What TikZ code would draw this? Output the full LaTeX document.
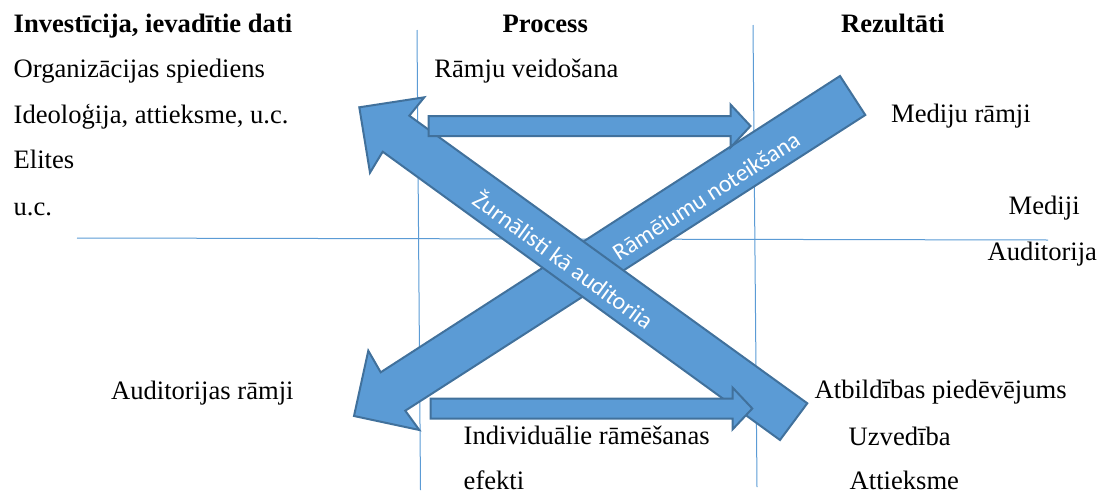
\documentclass[tikz,border=0pt]{standalone}
\usepackage{fontspec}
\setmainfont{Liberation Serif}
\newfontfamily\arrowfont{Carlito}
\definecolor{guideblue}{HTML}{5B9BD5}
\definecolor{arrowblue}{HTML}{5B9BD5}
\definecolor{arrowedge}{HTML}{41719C}
\tikzset{
        guide/.style={draw=guideblue, line width=0.5pt},
        blockarrow/.style={fill=arrowblue, draw=arrowedge, line width=1pt, line join=miter},
        lbl/.style={anchor=base west, inner sep=0pt, font=\fontsize{13.3}{16}\selectfont},
        colhead/.style={lbl, font=\fontsize{13.3}{16}\selectfont\bfseries},
        onarrow/.style={inner sep=0pt, text=white, font=\arrowfont\fontsize{12}{14}\selectfont}
}

\begin{document}
\begin{tikzpicture}[x=0.5pt,y=-0.5pt]
        \useasboundingbox (0,0) rectangle (1099,493);

        % Column and row dividers
        \draw[guide] (417,30) -- (420.5,490);
        \draw[guide] (753,25) -- (757,487);
        \draw[guide] (77,238) -- (1048,240);

        % Column headings
        \node[colhead] (inv) at (13.3,32.3) {Investīcija, ievadītie dati};
        \node[colhead] (proc) at (502.3,32.3) {Process};
        \node[colhead] (rez) at (840.7,32.3) {Rezultāti};

        % Input column
        \node[lbl] (in1) at (13.3,77.3) {Organizācijas spiediens};
        \node[lbl] (in2) at (13.3,123.3) {Ideoloģija, attieksme, u.c.};
        \node[lbl] (in3) at (13.3,168.3) {Elites};
        \node[lbl] (in4) at (13.3,215) {u.c.};
        \node[lbl] (aud) at (110.7,399.3) {Auditorijas rāmji};

        % Process column
        \node[lbl] (p1) at (434,77.3) {Rāmju veidošana};
        \node[lbl] (p2) at (463.3,444) {Individuālie rāmēšanas};
        \node[lbl] (p3) at (463.3,489.3) {efekti};

        % Result column
        \node[lbl] (r1) at (890.7,122.7) {Mediju rāmji};
        \node[lbl] (r2) at (1008.3,214.3) {Mediji};
        \node[lbl] (r3) at (987.3,260.7) {Auditorija};
        \node[lbl] (r4) at (814.3,398.3) {Atbildības piedēvējums};
        \node[lbl] (r5) at (848.3,445) {Uzvedība};
        \node[lbl] (r6) at (849.3,489.3) {Attieksme};

        % Diagonal arrow to the lower left
        \draw[blockarrow] (840,76) -- (380.7,372.3) -- (368.3,350.7) -- (354,416)
                -- (419.3,430) -- (405.3,410.7) -- (865.3,115) -- cycle;
        \node[onarrow, rotate=32.7] (a1) at (706,196) {Rāmēiumu noteikšana};

        % Diagonal arrow to the upper left
        \draw[blockarrow] (807.3,403.3) -- (409.3,115.7) -- (424.3,97.3) -- (359.3,107.3)
                -- (370,172.7) -- (382.7,151.7) -- (780,440) -- cycle;
        \node[onarrow, rotate=-36.1] (a2) at (564,259) {Žurnālisti kā auditoriia};

        % Horizontal arrows
        \draw[blockarrow] (428.5,116) -- (730.5,116) -- (730.5,104.5) -- (750.5,126)
                -- (730.5,147.5) -- (730.5,136) -- (428.5,136) -- cycle;
        \draw[blockarrow] (430.5,398.5) -- (732.5,398.5) -- (732.5,387.5) -- (752.3,408.5)
                -- (732.5,429.5) -- (732.5,418.5) -- (430.5,418.5) -- cycle;
\end{tikzpicture}
\end{document}
